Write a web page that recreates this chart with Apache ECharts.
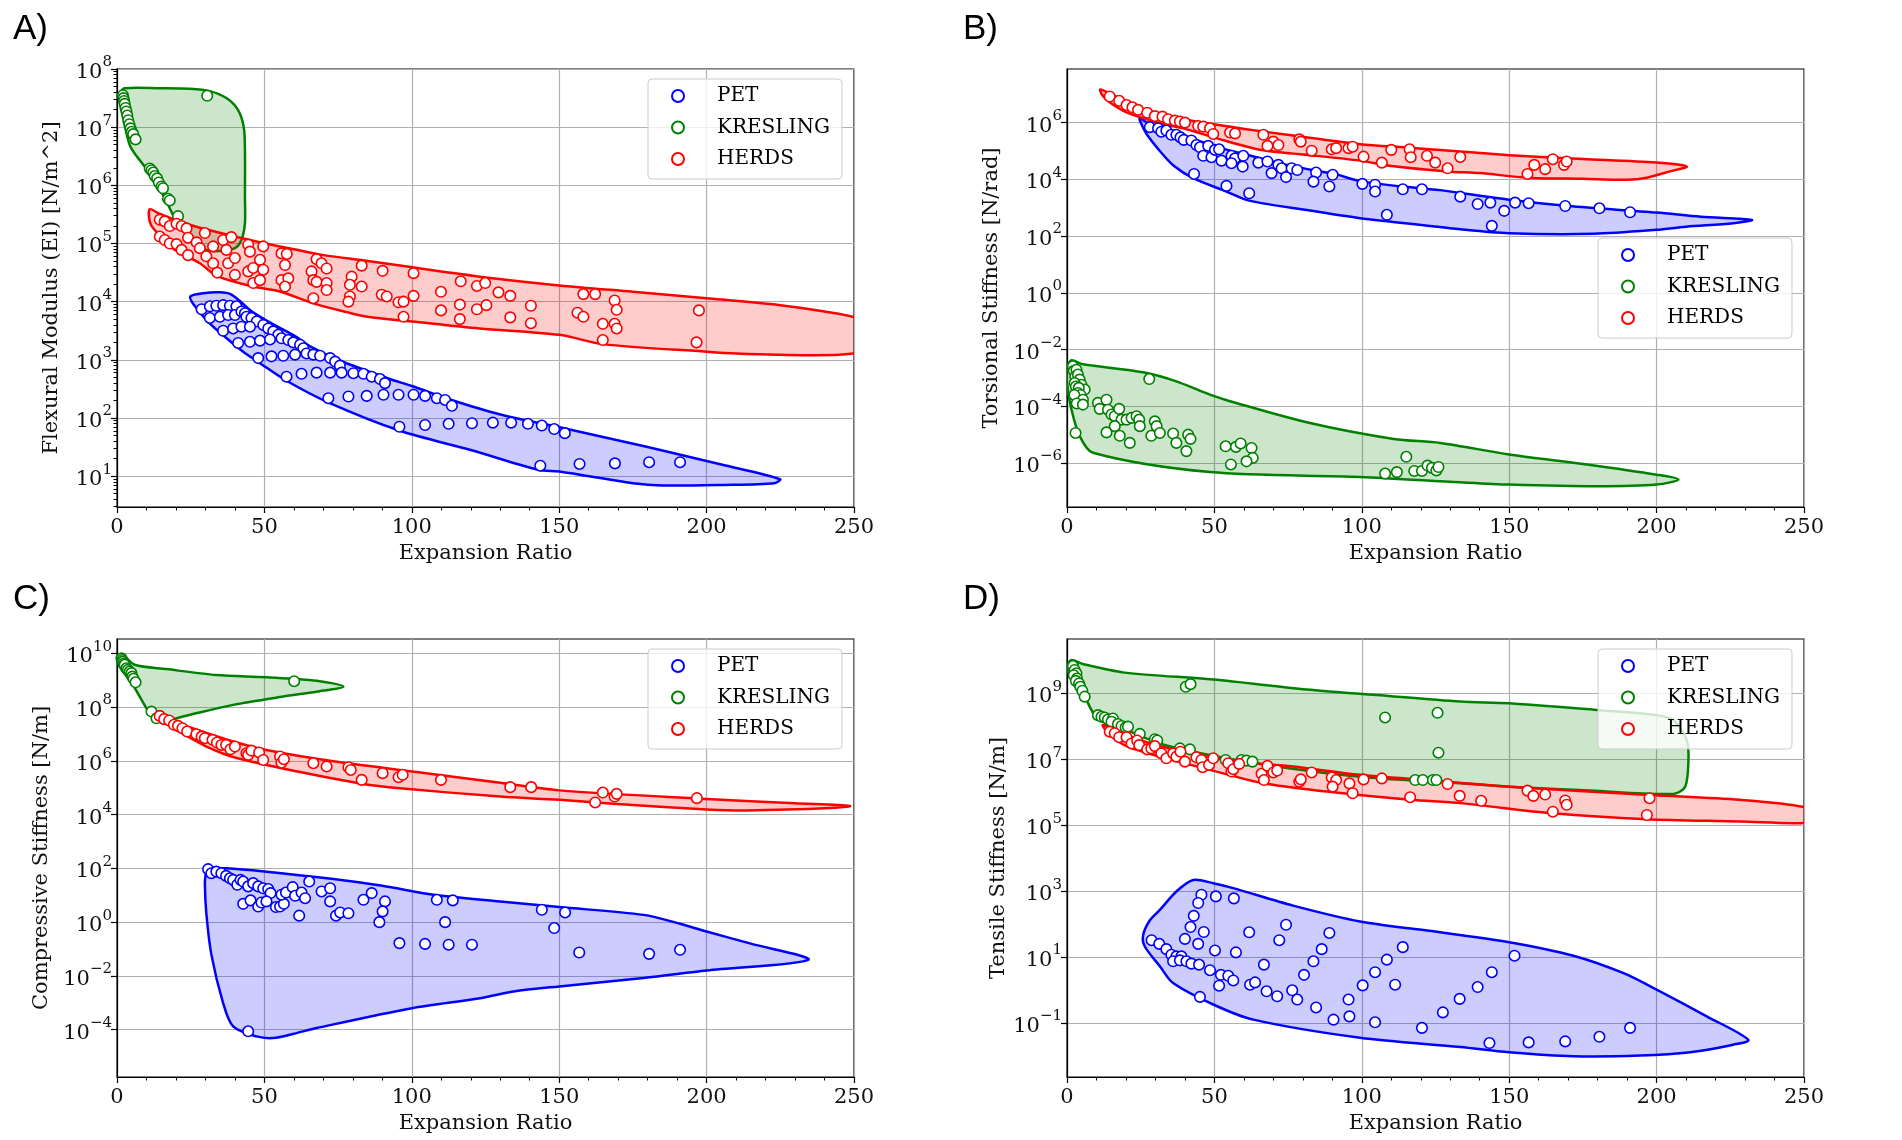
<!DOCTYPE html>
<html>
<head>
<meta charset="utf-8">
<script src="https://cdn.jsdelivr.net/npm/echarts@6/dist/echarts.min.js"></script>
<style>
  html, body { margin: 0; padding: 0; background: #fff; }
  #main { width: 1902px; height: 1140px; }
</style>
</head>
<body>
<div id="main"></div>
<script>
// All y values are log10 of the stiffness (the plots use log axes).
// Each point is [expansion ratio, log10(value)].

// ---------- A) Flexural modulus ----------
var petA = [[28.7,3.87],[31.5,3.92],[33.7,3.93],[36.0,3.94],[38.3,3.93],[40.5,3.92],[31.5,3.72],[34.9,3.74],[37.7,3.77],[40.0,3.77],[42.2,3.83],[43.4,3.80],[43.9,3.74],[45.6,3.72],[47.4,3.66],[36.0,3.50],[39.4,3.54],[42.2,3.57],[45.1,3.57],[49.6,3.60],[51.3,3.54],[53.0,3.49],[54.7,3.43],[55.8,3.37],[58.1,3.34],[59.8,3.30],[62.1,3.26],[63.2,3.20],[41.1,3.29],[45.1,3.31],[48.5,3.33],[51.9,3.35],[47.9,3.03],[52.4,3.06],[56.4,3.07],[60.4,3.09],[64.3,3.11],[66.6,3.09],[68.9,3.07],[72.3,3.03],[74.0,2.97],[75.6,2.90],[57.5,2.71],[62.6,2.76],[67.7,2.78],[72.3,2.78],[76.2,2.78],[80.2,2.77],[83.6,2.76],[86.4,2.71],[89.2,2.67],[90.9,2.60],[71.7,2.34],[78.5,2.37],[84.7,2.38],[90.4,2.40],[95.5,2.40],[100.6,2.40],[104.5,2.38],[108.5,2.34],[111.3,2.31],[113.6,2.21],[95.8,1.85],[104.5,1.88],[112.5,1.90],[120.4,1.91],[127.5,1.92],[133.7,1.92],[139.4,1.90],[144.1,1.87],[148.3,1.81],[151.9,1.74],[143.6,1.18],[156.9,1.21],[168.9,1.22],[180.5,1.24],[191.0,1.24]];
var kresA = [[2.0,7.55],[2.2,7.50],[2.4,7.45],[2.6,7.40],[2.9,7.33],[3.2,7.27],[3.5,7.20],[3.8,7.12],[4.2,7.05],[4.6,6.98],[5.0,6.92],[5.5,6.88],[6.3,6.79],[11.1,6.29],[11.7,6.26],[12.3,6.22],[12.8,6.16],[13.6,6.12],[14.2,6.05],[15.1,5.98],[15.6,5.95],[17.3,5.77],[17.9,5.74],[20.7,5.47],[30.6,7.54]];
var herdsA = [[14.5,5.41],[16.2,5.38],[17.9,5.30],[20.2,5.34],[21.9,5.30],[23.6,5.26],[24.1,5.10],[14.5,5.12],[16.2,5.06],[17.9,5.00],[20.2,4.99],[21.9,4.89],[24.1,4.80],[27.0,5.02],[28.1,4.92],[29.8,5.18],[30.3,4.78],[32.6,4.95],[32.6,4.66],[34.0,4.50],[36.0,5.06],[37.1,4.89],[37.7,4.66],[38.8,5.11],[40.0,4.75],[40.0,4.46],[44.5,4.98],[45.1,4.86],[44.5,4.52],[46.2,4.58],[46.2,4.32],[48.5,4.72],[48.5,4.37],[49.6,4.95],[49.6,4.55],[55.8,4.83],[57.6,4.82],[57.0,4.63],[55.8,4.37],[58.1,4.40],[57.0,4.26],[66.0,4.52],[67.7,4.73],[69.4,4.66],[71.1,4.57],[66.6,4.37],[67.7,4.34],[71.1,4.32],[71.1,4.20],[66.6,4.06],[79.6,4.43],[79.0,4.29],[79.0,4.09],[78.5,4.00],[83.0,4.26],[83.0,4.62],[90.1,4.53],[89.8,4.12],[91.5,4.09],[95.5,3.99],[97.2,4.00],[97.2,3.74],[100.6,4.49],[100.6,4.10],[109.9,4.17],[109.9,3.85],[116.6,4.35],[116.3,3.95],[116.3,3.70],[122.1,4.27],[122.1,3.87],[124.9,4.32],[125.3,3.94],[129.4,4.16],[133.4,4.10],[133.4,3.73],[140.4,3.93],[140.4,3.63],[158.2,4.13],[162.2,4.13],[156.2,3.81],[158.2,3.74],[168.8,4.02],[169.5,3.86],[164.8,3.62],[168.8,3.62],[169.5,3.54],[164.8,3.34],[197.4,3.85],[196.6,3.30]];
var petHullA = [[24.9,4.09],[30,4.15],[35,4.16],[38.5,4.13],[41.5,4.02],[46,3.82],[52,3.64],[60,3.42],[66,3.22],[76,2.98],[92,2.68],[100,2.55],[114,2.30],[130,2.06],[152,1.82],[180,1.50],[205,1.20],[224.9,0.95],[223,0.88],[205,0.85],[185,0.84],[175,0.88],[150,1.08],[143,1.11],[120,1.45],[96,1.78],[72,2.26],[57.5,2.64],[48,2.96],[42.8,3.14],[37,3.38],[31,3.65],[26,3.95]];
var kresHullA = [[1.1,7.58],[2.6,7.67],[15,7.67],[24.7,7.66],[31.5,7.62],[37.1,7.50],[41,7.30],[43,7.0],[43.4,6.6],[43.4,5.8],[43.4,5.35],[42.2,5.06],[40,4.92],[35,4.87],[30.3,4.89],[25,5.1],[20,5.40],[16,5.80],[10,6.28],[4.5,6.67],[2,7.2],[1.0,7.45]];
var herdsHullA = [[11.1,5.59],[14,5.52],[20,5.40],[28.1,5.27],[40,5.12],[49.6,5.01],[60,4.90],[70,4.80],[85,4.70],[96,4.62],[110,4.52],[123,4.43],[150,4.28],[175,4.17],[200,4.06],[225,3.94],[240,3.83],[252,3.70],[258,3.45],[255,3.20],[248,3.10],[235,3.08],[210,3.11],[200,3.14],[164.8,3.27],[150,3.43],[123,3.54],[100,3.66],[85,3.74],[78,3.82],[66,3.98],[55,4.18],[46.2,4.26],[34,4.44],[28.1,4.66],[20,4.88],[16.8,5.03],[12.5,5.25],[11.1,5.38]];

// ---------- B) Torsional stiffness ----------
var petB = [[28.1,5.84],[30.9,5.80],[32.0,5.68],[33.7,5.72],[35.4,5.57],[37.1,5.57],[38.5,5.48],[39.6,5.39],[42.2,5.37],[43.9,5.21],[45.1,5.13],[46.2,4.83],[47.9,5.18],[49.0,4.78],[50.2,5.04],[51.6,5.06],[52.4,4.66],[55.8,4.83],[57.0,4.74],[55.8,4.57],[59.8,4.83],[59.6,4.45],[64.9,4.59],[68.0,4.63],[69.4,4.22],[71.7,4.51],[72.8,4.39],[74.3,4.08],[76.2,4.39],[78.1,4.33],[84.5,4.24],[83.6,3.92],[90.1,4.16],[89.0,3.75],[43.1,4.19],[54.1,3.77],[61.8,3.51],[100.2,3.84],[104.5,3.81],[104.5,3.57],[113.9,3.65],[120.4,3.65],[108.5,2.75],[133.4,3.39],[139.3,3.13],[143.6,3.18],[148.3,2.89],[144.1,2.36],[152.0,3.18],[156.6,3.16],[169.0,3.06],[180.6,2.98],[191.0,2.84]];
var kresB = [[2.0,-2.59],[2.3,-2.75],[3.2,-2.71],[2.8,-2.95],[3.7,-2.88],[4.3,-3.06],[4.9,-3.24],[6.0,-3.41],[2.6,-3.18],[3.0,-3.30],[4.0,-3.35],[3.7,-3.53],[4.6,-3.60],[2.5,-3.60],[5.4,-3.77],[3.3,-3.90],[5.4,-3.94],[2.9,-4.94],[27.9,-3.04],[10.5,-3.88],[11.1,-4.09],[13.4,-3.77],[13.9,-4.12],[15.1,-4.29],[16.2,-4.35],[17.7,-4.09],[18.5,-4.47],[16.2,-4.70],[13.4,-4.92],[17.9,-5.04],[21.3,-5.29],[20.2,-4.47],[21.9,-4.41],[23.6,-4.35],[24.5,-4.47],[24.7,-4.70],[29.8,-4.53],[30.4,-4.70],[28.6,-5.04],[31.5,-4.94],[36.0,-4.96],[37.1,-5.29],[41.1,-5.00],[41.9,-5.15],[40.5,-5.58],[53.8,-5.41],[57.3,-5.43],[58.9,-5.31],[62.6,-5.47],[63.0,-5.82],[60.9,-5.94],[55.6,-6.05],[107.9,-6.37],[111.9,-6.32],[115.1,-5.78],[117.8,-6.28],[120.4,-6.28],[122.3,-6.09],[123.8,-6.17],[125.3,-6.26],[126.0,-6.14]];
var herdsB = [[14.5,6.92],[17.7,6.77],[20.2,6.62],[22.2,6.54],[24.1,6.45],[27.2,6.35],[29.8,6.23],[32.4,6.21],[34.3,6.12],[36.6,6.07],[38.3,6.04],[40.0,6.00],[44.5,5.88],[46.2,5.86],[48.5,5.80],[49.6,5.60],[55.3,5.65],[57.0,5.62],[66.6,5.57],[70.0,5.33],[71.7,5.21],[68.0,5.18],[78.8,5.41],[79.3,5.33],[83.0,5.01],[89.8,5.06],[91.3,5.10],[95.5,5.10],[96.9,5.15],[100.6,4.80],[106.8,4.59],[110.0,5.04],[116.2,5.06],[116.6,4.78],[122.1,4.83],[124.9,4.59],[129.1,4.39],[133.4,4.79],[156.2,4.19],[158.5,4.51],[162.2,4.36],[164.8,4.71],[168.6,4.51],[169.5,4.63]];
var petHullB = [[24.7,6.15],[28.1,5.95],[33.7,5.80],[42.2,5.45],[51.6,5.12],[59.8,4.90],[71.7,4.58],[84.5,4.30],[90.1,4.21],[100.2,3.92],[120.4,3.68],[126.6,3.62],[150,3.28],[170,3.06],[200,2.83],[215,2.68],[232.3,2.57],[226,2.45],[210,2.33],[200,2.22],[178.6,2.08],[150,2.10],[133.4,2.24],[108.5,2.52],[99.4,2.63],[82.4,2.90],[61.8,3.25],[54.1,3.57],[42.8,4.04],[36,4.5],[31.5,5.0],[27,5.6],[25,6.0]];
var kresHullB = [[0,-2.65],[1.5,-2.38],[5.4,-2.52],[25.8,-2.80],[37.1,-3.12],[48.5,-3.59],[55.3,-3.82],[82.4,-4.59],[110.8,-5.15],[126.6,-5.29],[150,-5.70],[176.3,-6.05],[200,-6.41],[207.4,-6.58],[200,-6.76],[179.7,-6.82],[150,-6.76],[133.4,-6.68],[99.4,-6.49],[48.5,-6.32],[8.8,-5.64],[4.3,-5.05],[1.5,-4.11],[0,-3.18]];
var herdsHullB = [[11.3,7.17],[16,6.95],[24.7,6.52],[32,6.28],[42.8,6.06],[55,5.86],[65.5,5.70],[80,5.50],[99.4,5.24],[115,5.12],[133.4,4.98],[150,4.85],[175,4.72],[200,4.59],[210.2,4.45],[204.5,4.28],[196.7,4.06],[189.9,3.99],[175,4.02],[156.2,4.06],[140,4.22],[129,4.28],[110,4.47],[99.4,4.66],[80,4.88],[65.5,5.04],[50,5.47],[40,5.78],[31.5,5.98],[20.2,6.36],[14,6.75],[11.8,7.0]];

// ---------- C) Compressive stiffness ----------
var petC = [[30.9,1.97],[32.0,1.82],[33.7,1.88],[35.4,1.82],[37.0,1.72],[38.3,1.63],[39.4,1.57],[40.8,1.39],[41.9,1.57],[42.8,1.51],[44.5,1.33],[46.2,1.45],[47.9,1.33],[49.6,1.26],[51.3,1.23],[52.1,1.08],[42.8,0.68],[45.3,0.81],[47.9,0.58],[49.0,0.73],[50.7,0.77],[53.9,0.56],[55.3,0.58],[56.6,0.68],[55.8,1.02],[57.3,1.10],[59.6,1.30],[60.4,0.98],[62.6,1.10],[63.8,0.89],[61.8,0.24],[65.2,1.51],[69.4,1.14],[72.3,1.26],[72.3,0.77],[74.3,0.24],[75.7,0.36],[78.5,0.33],[83.6,0.83],[86.4,1.08],[90.9,0.77],[90.1,0.40],[89.0,0.00],[95.8,-0.78],[104.5,-0.81],[108.5,0.83],[113.9,0.81],[111.3,0.00],[112.5,-0.84],[120.4,-0.84],[44.5,-4.06],[144.1,0.46],[152.0,0.36],[148.3,-0.22],[156.8,-1.13],[180.5,-1.18],[191.0,-1.03]];
var kresC = [[1.5,9.81],[1.8,9.75],[2.0,9.69],[2.3,9.62],[2.6,9.57],[3.2,9.44],[3.7,9.38],[4.3,9.32],[4.9,9.26],[5.2,9.13],[5.6,9.05],[6.3,8.92],[11.7,7.83],[13.4,7.58],[60.1,8.96]];
var herdsC = [[14.5,7.67],[16.0,7.55],[17.7,7.50],[19.3,7.34],[20.7,7.30],[22.2,7.21],[23.8,7.09],[26.9,6.99],[28.7,6.90],[29.8,6.84],[32.4,6.78],[33.9,6.68],[35.4,6.59],[37.0,6.59],[38.5,6.43],[40.0,6.53],[43.9,6.28],[44.5,6.22],[45.6,6.38],[48.2,6.31],[49.6,6.03],[55.3,6.16],[55.8,5.93],[56.6,6.06],[66.6,5.91],[71.1,5.79],[78.5,5.76],[79.3,5.66],[83.0,5.29],[90.1,5.54],[95.5,5.39],[96.9,5.48],[109.9,5.29],[133.4,5.02],[140.5,5.02],[164.8,4.82],[162.2,4.45],[168.8,4.67],[169.5,4.77],[196.7,4.61]];
var petHullC = [[30.1,2.0],[37.1,2.0],[50,1.88],[73.4,1.60],[90,1.35],[107.4,1.02],[130,0.77],[150,0.56],[178.6,0.27],[191,-0.06],[200,-0.35],[215,-0.8],[234.5,-1.40],[200,-1.80],[178.6,-2.08],[150,-2.39],[134.5,-2.58],[123.2,-2.83],[100,-3.2],[67.7,-3.94],[60,-4.15],[53,-4.31],[47.3,-4.25],[39.4,-3.88],[36,-3.01],[32,-1.2],[30.3,0.33],[29.8,1.45],[30.1,1.82]];
var kresHullC = [[0.3,9.78],[1.8,9.94],[6,9.57],[16.8,9.41],[33.7,9.19],[50.7,9.11],[67.7,8.98],[76.8,8.76],[67.7,8.57],[56.4,8.39],[39.4,8.08],[22.4,7.65],[14.5,7.46],[11.1,7.77],[5.4,8.82],[0.9,9.5]];
var herdsHullC = [[12.8,7.83],[20,7.45],[28.1,7.12],[40,6.70],[50.7,6.40],[73.4,5.98],[107.4,5.50],[130,5.18],[150,4.90],[200,4.58],[230,4.42],[248.6,4.32],[241.9,4.24],[213.6,4.15],[200,4.19],[168.4,4.40],[150,4.55],[130,4.67],[96,4.98],[83,5.15],[62.1,5.58],[40,6.12],[30,6.55],[22.4,7.0],[17,7.35],[13.4,7.55]];

// ---------- D) Tensile stiffness ----------
var petD = [[28.7,1.51],[31.3,1.40],[33.7,1.24],[35.4,1.07],[37.1,1.02],[38.8,1.02],[36.0,0.87],[38.3,0.90],[40.5,0.87],[42.2,0.80],[44.8,0.77],[48.5,0.60],[52.2,0.46],[54.7,0.43],[56.4,0.29],[51.6,0.13],[45.1,-0.21],[62.1,0.16],[63.8,0.23],[67.7,-0.04],[71.3,-0.19],[76.4,-0.01],[78.1,-0.29],[84.5,-0.53],[90.4,-0.90],[95.5,-0.29],[95.8,-0.80],[100.3,0.14],[104.5,0.54],[104.5,-0.98],[108.5,0.92],[111.3,0.16],[113.9,1.30],[120.4,-1.15],[127.5,-0.68],[133.2,-0.27],[45.6,2.89],[50.5,2.84],[56.6,2.78],[44.5,2.64],[43.0,2.25],[41.9,1.91],[46.4,1.76],[40.0,1.55],[44.5,1.40],[50.2,1.20],[57.3,1.14],[61.8,1.75],[66.8,0.77],[72.0,1.51],[74.3,1.98],[80.4,0.46],[83.6,0.87],[86.4,1.24],[89.0,1.73],[139.3,0.09],[144.1,0.54],[151.8,1.04],[143.3,-1.61],[156.6,-1.59],[169.0,-1.56],[180.6,-1.42],[191.0,-1.15]];
var kresD = [[2.0,9.83],[2.6,9.71],[3.2,9.61],[2.3,9.55],[3.4,9.45],[3.0,9.38],[4.1,9.30],[4.5,9.20],[5.2,9.08],[6.0,8.90],[10.5,8.34],[11.7,8.29],[12.8,8.27],[13.9,8.21],[15.6,8.24],[15.1,8.14],[17.3,8.07],[18.5,8.01],[19.9,7.97],[20.7,7.99],[24.7,7.77],[29.8,7.61],[30.6,7.57],[38.3,7.33],[41.7,7.30],[40.3,9.20],[41.9,9.28],[53.8,6.98],[59.2,6.98],[60.9,6.96],[62.9,6.93],[107.9,8.27],[125.7,8.41],[126.0,7.20],[118.1,6.37],[120.7,6.37],[124.1,6.37],[125.3,6.37]];
var herdsD = [[14.5,7.84],[16.2,7.79],[17.7,7.67],[20.2,7.67],[21.9,7.48],[23.8,7.57],[24.5,7.43],[27.2,7.30],[28.6,7.33],[29.8,7.40],[32.0,7.18],[33.7,7.03],[36.0,7.18],[37.1,7.08],[38.5,7.23],[40.0,6.93],[43.9,7.06],[45.6,6.98],[46.0,6.76],[48.2,6.83],[49.6,7.03],[54.7,6.88],[55.8,6.63],[56.4,6.70],[58.4,6.86],[66.0,6.56],[66.8,6.37],[68.0,6.80],[70.0,6.60],[71.3,6.66],[78.8,6.32],[79.3,6.39],[83.0,6.60],[89.8,6.45],[91.3,6.37],[90.1,6.17],[95.8,6.27],[96.9,5.97],[100.6,6.39],[106.8,6.42],[116.4,5.85],[129.1,6.25],[133.2,5.89],[140.5,5.74],[156.2,6.05],[158.2,5.89],[162.2,5.93],[169.0,5.75],[169.5,5.62],[164.8,5.41],[197.6,5.82],[196.7,5.31]];
var petHullD = [[25.8,1.65],[28,2.1],[31.5,2.43],[37.1,2.99],[42.8,3.34],[49.6,3.24],[56.4,3.09],[76.7,2.56],[99.4,2.08],[126.6,1.75],[150,1.45],[171.8,1.04],[188.8,0.51],[200,0.01],[217,-0.80],[231.1,-1.51],[226,-1.66],[211.4,-1.89],[194.4,-1.99],[171.8,-2.01],[150,-1.89],[133.4,-1.73],[99.4,-1.45],[63.2,-0.90],[49.6,-0.44],[36,0.21],[31.5,0.72],[26.4,1.32]];
var kresHullD = [[0,9.81],[1.5,10.01],[5.4,9.89],[19.6,9.63],[49.6,9.42],[81.3,9.12],[105,8.95],[133.4,8.75],[150,8.70],[180.8,8.49],[200,8.34],[205.7,8.19],[210.2,7.59],[210.8,6.98],[209.7,6.17],[205.7,5.95],[177.5,6.05],[150,6.17],[133.4,6.27],[99.4,6.47],[65.5,6.86],[42.8,7.23],[31.5,7.48],[20.2,7.89],[10,8.29],[6,8.90],[2,9.45],[0,9.71]];
var herdsHullD = [[12.2,8.04],[20.2,7.74],[31.5,7.40],[54.1,6.98],[76.7,6.78],[99.4,6.53],[129.1,6.32],[150,6.17],[197.6,5.92],[228.3,5.77],[250,5.55],[253,5.3],[250,5.08],[246.4,5.06],[228.3,5.11],[196.7,5.18],[164.8,5.36],[133.4,5.67],[116.4,5.77],[88.1,6.02],[66.6,6.27],[48.5,6.68],[31.5,7.08],[20.2,7.40],[14.5,7.74]];

// tick exponents of the log axes
var yTicksA = [1, 2, 3, 4, 5, 6, 7, 8];
var yTicksB = [-6, -4, -2, 0, 2, 4, 6];
var yTicksC = [-4, -2, 0, 2, 4, 6, 8, 10];
var yTicksD = [-1, 1, 3, 5, 7, 9];
var seriesNames = ['PET', 'KRESLING', 'HERDS'];

var SERIF = 'DejaVu Serif';
var EDGE = { PET: '#0000ff', KRESLING: '#008000', HERDS: '#ff0000' };
var FILL = { PET: 'rgba(0,0,255,0.2)', KRESLING: 'rgba(0,128,0,0.2)', HERDS: 'rgba(255,0,0,0.2)' };

var panels = [
  { letter: 'A)', left: 117, top: 69, yName: 'Flexural Modulus (EI) [N/m^2]', nameGap: 55,
    min: 0.47, max: 8.0, ticks: yTicksA, legend: [648, 79],
    pts: { PET: petA, KRESLING: kresA, HERDS: herdsA }, hull: { PET: petHullA, KRESLING: kresHullA, HERDS: herdsHullA } },
  { letter: 'B)', left: 1067, top: 69, yName: 'Torsional Stiffness [N/rad]', nameGap: 65,
    min: -7.55, max: 7.89, ticks: yTicksB, legend: [1598, 238],
    pts: { PET: petB, KRESLING: kresB, HERDS: herdsB }, hull: { PET: petHullB, KRESLING: kresHullB, HERDS: herdsHullB } },
  { letter: 'C)', left: 117, top: 639, yName: 'Compressive Stiffness [N/m]', nameGap: 65,
    min: -5.76, max: 10.53, ticks: yTicksC, legend: [648, 649],
    pts: { PET: petC, KRESLING: kresC, HERDS: herdsC }, hull: { PET: petHullC, KRESLING: kresHullC, HERDS: herdsHullC } },
  { letter: 'D)', left: 1067, top: 639, yName: 'Tensile Stiffness [N/m]', nameGap: 54,
    min: -2.64, max: 10.65, ticks: yTicksD, legend: [1598, 649],
    pts: { PET: petD, KRESLING: kresD, HERDS: herdsD }, hull: { PET: petHullD, KRESLING: kresHullD, HERDS: herdsHullD } }
];

// "10" with a raised exponent, like matplotlib's log labels
function powLabel(v) {
  var e = Math.round(v);
  return '{b|10}{s|' + (e < 0 ? '\u2212' + (-e) : e) + '}';
}
var powRich = {
  b: { fontFamily: SERIF, fontSize: 21, color: '#111', padding: [7, 0, 0, 0] },
  s: { fontFamily: SERIF, fontSize: 15, color: '#111', verticalAlign: 'top' }
};

// minor ticks of panel A (2..9 x 10^n)
var minorA = [];
for (var n = 0; n < 8; n++) {
  for (var k = 2; k <= 9; k++) {
    var m = n + Math.log10(k);
    if (m >= 0.47 && m <= 8.0) minorA.push(m);
  }
}

var W = 737, H = 438;
var grids = [], xAxes = [], yAxes = [], series = [], legends = [], graphics = [];

panels.forEach(function (p, i) {
  grids.push({ left: p.left, top: p.top, width: W, height: H, show: true, borderColor: '#000', borderWidth: 1.2,
    backgroundColor: 'transparent', containLabel: false, outerBoundsMode: 'none' });
  xAxes.push({
    gridIndex: i, type: 'value', min: 0, max: 250, interval: 50,
    name: 'Expansion Ratio', nameLocation: 'middle', nameGap: 36,
    nameTextStyle: { fontFamily: SERIF, fontSize: 21, color: '#111' },
    axisLine: { onZero: false, lineStyle: { color: '#000', width: 1.2 } },
    axisTick: { length: 6, lineStyle: { color: '#000', width: 1.2 } },
    minorTick: { show: true, splitNumber: 5, length: 3.5, lineStyle: { color: '#000', width: 1 } },
    splitLine: { show: true, lineStyle: { color: '#b0b0b0', width: 1.2 } },
    axisLabel: { fontFamily: SERIF, fontSize: 21, color: '#111', margin: 10 }
  });
  yAxes.push({
    gridIndex: i, type: 'value', min: p.min, max: p.max,
    name: p.yName, nameLocation: 'middle', nameGap: p.nameGap, nameRotate: 90,
    nameTextStyle: { fontFamily: SERIF, fontSize: 21, color: '#111' },
    axisLine: { show: true, onZero: false, lineStyle: { color: '#000', width: 1.2 } },
    axisTick: { show: true, length: 6, customValues: p.ticks, lineStyle: { color: '#000', width: 1.2 } },
    splitLine: { show: true, lineStyle: { color: '#b0b0b0', width: 1.2 } },
    axisLabel: { customValues: p.ticks, formatter: powLabel, rich: powRich, margin: 5 }
  });
  seriesNames.forEach(function (s) {
    var hull = p.hull[s];
    series.push({
      type: 'custom', name: s + ' region', xAxisIndex: i, yAxisIndex: i, clip: true, silent: true, z: 2,
      data: hull,
      renderItem: function (params, api) {
        if (params.dataIndex !== 0) return null;
        var pts = hull.map(function (d) { return api.coord(d); });
        return { type: 'polygon', shape: { points: pts, smooth: 0.3 },
          style: { fill: FILL[s], stroke: EDGE[s], lineWidth: 2.5 } };
      }
    });
  });
  seriesNames.forEach(function (s) {
    series.push({
      type: 'scatter', name: s, xAxisIndex: i, yAxisIndex: i, data: p.pts[s], z: 3,
      symbol: 'circle', symbolSize: 10.5,
      itemStyle: { color: '#ffffff', borderColor: EDGE[s], borderWidth: 1.6, opacity: 1 },
      emphasis: { disabled: true }
    });
  });
  legends.push({
    data: seriesNames, orient: 'vertical', left: p.legend[0], top: p.legend[1],
    itemWidth: 12, itemHeight: 12, itemGap: 7.5, padding: [5, 12, 8, 23],
    backgroundColor: 'rgba(255,255,255,0.8)', borderColor: '#cccccc', borderWidth: 1, borderRadius: 4,
    selectedMode: false,
    textStyle: { fontFamily: SERIF, fontSize: 20, color: '#000', lineHeight: 24, padding: [0, 0, 0, 28] }
  });
  graphics.push({ type: 'text', left: p.left - 104, top: p.top - 57,
    style: { text: p.letter, font: '35px "Liberation Sans"', fill: '#000' } });
});

// overlay grid only carrying the minor log ticks of panel A
grids.push({ left: 117, top: 69, width: W, height: H, show: false });
xAxes.push({ gridIndex: 4, type: 'value', min: 0, max: 250, show: false });
yAxes.push({
  gridIndex: 4, type: 'value', min: 0.47, max: 8.0,
  axisLine: { show: false }, axisLabel: { show: false }, splitLine: { show: false },
  axisTick: { show: true, length: 3.5, customValues: minorA, lineStyle: { color: '#000', width: 1 } }
});

var myChart = echarts.init(document.getElementById('main'));
myChart.setOption({
  animation: false,
  backgroundColor: '#fff',
  grid: grids,
  xAxis: xAxes,
  yAxis: yAxes,
  legend: legends,
  graphic: graphics,
  series: series
});
</script>
</body>
</html>
